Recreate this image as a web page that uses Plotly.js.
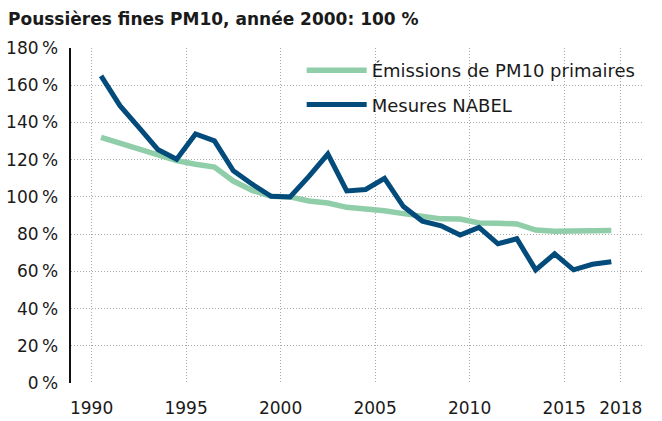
<!DOCTYPE html>
<html>
<head>
<meta charset="utf-8">
<script src="https://cdn.plot.ly/plotly-3.0.1.min.js"></script>
<style>html,body{margin:0;padding:0;background:#fff;}#chart{width:662px;height:421px;}</style>
</head>
<body>
<div id="chart"></div>
<script>
// Years of the series
var years = [1990,1991,1992,1993,1994,1995,1996,1997,1998,1999,2000,2001,2002,2003,2004,2005,2006,2007,2008,2009,2010,2011,2012,2013,2014,2015,2016,2017];
// Émissions de PM10 primaires (% of 2000)
var emissions = [132,129,126,123,119.5,117.5,116,108.5,103.5,100.3,100,97.8,96.7,94.4,93.6,92.6,91,89.9,88.2,88.1,86,85.8,85.5,82.2,81.5,81.7,82.1,82];
// Mesures NABEL (% of 2000)
var nabel = [165,149,137.4,125.5,120.2,133.8,130.1,114,106.8,100.3,100,111,123,103.2,104,110,94.8,87,84.5,79.5,83.6,74.8,77.5,60.8,69.4,60.8,63.8,65.2];
var seriesNames = ['Émissions de PM10 primaires', 'Mesures NABEL'];
var xTickLabels = ['1990','1995','2000','2005','2010','2015','2018'];
var yTicks = [0,20,40,60,80,100,120,140,160,180];

var fontFam = '"DejaVu Sans", sans-serif';
var txt = '#1a1a1a';

var traces = [
  {x: years, y: emissions, name: seriesNames[0], type: 'scatter', mode: 'lines',
   line: {color: '#90cda9', width: 5.5}, legendgroup: 'a', hoverinfo: 'skip'},
  {x: years, y: nabel, name: seriesNames[1], type: 'scatter', mode: 'lines',
   line: {color: '#024b7b', width: 5}, legendgroup: 'b', hoverinfo: 'skip'}
];

var layout = {
  width: 662, height: 421,
  margin: {l: 71, r: 18, t: 48, b: 38, pad: 0},
  paper_bgcolor: '#fff', plot_bgcolor: '#fff',
  font: {family: fontFam, size: 17, color: txt},
  title: {text: '<b>Poussières fines PM10, année 2000: 100 %</b>',
          font: {family: '"DejaVu Sans", sans-serif', size: 17, color: txt},
          x: 8/662, xanchor: 'left', xref: 'container',
          y: 1 - 19/421, yanchor: 'middle', yref: 'container'},
  xaxis: {
    range: [1988.41, 2018.73],
    tickmode: 'array',
    tickvals: xTickLabels.map(function(t){ return +t - 0.5; }),
    ticktext: xTickLabels,
    showgrid: true, gridcolor: '#a8a8a8', gridwidth: 1, griddash: '1px,2px',
    zeroline: false, showline: false, ticks: '',
    ticklabelstandoff: 13,
    tickfont: {family: fontFam, size: 17, color: txt}
  },
  yaxis: {
    range: [0, 180],
    tickmode: 'array', tickvals: yTicks,
    ticktext: yTicks.map(function(v){ return v + '\u2009%'; }),
    showgrid: true, gridcolor: '#a8a8a8', gridwidth: 1, griddash: '1px,2px',
    zeroline: false, showline: true, linecolor: '#111', linewidth: 2.5,
    ticks: '', ticklabelstandoff: 7,
    tickfont: {family: fontFam, size: 17, color: txt}
  },
  showlegend: true,
  legend: {x: 0.4026, xanchor: 'left', y: 0.988, yanchor: 'top',
           bgcolor: 'rgba(0,0,0,0)', borderwidth: 0,
           font: {family: fontFam, size: 18, color: txt},
           tracegroupgap: 8, itemwidth: 60}
};

Plotly.newPlot('chart', traces, layout, {displayModeBar: false, staticPlot: true});
</script>
</body>
</html>
